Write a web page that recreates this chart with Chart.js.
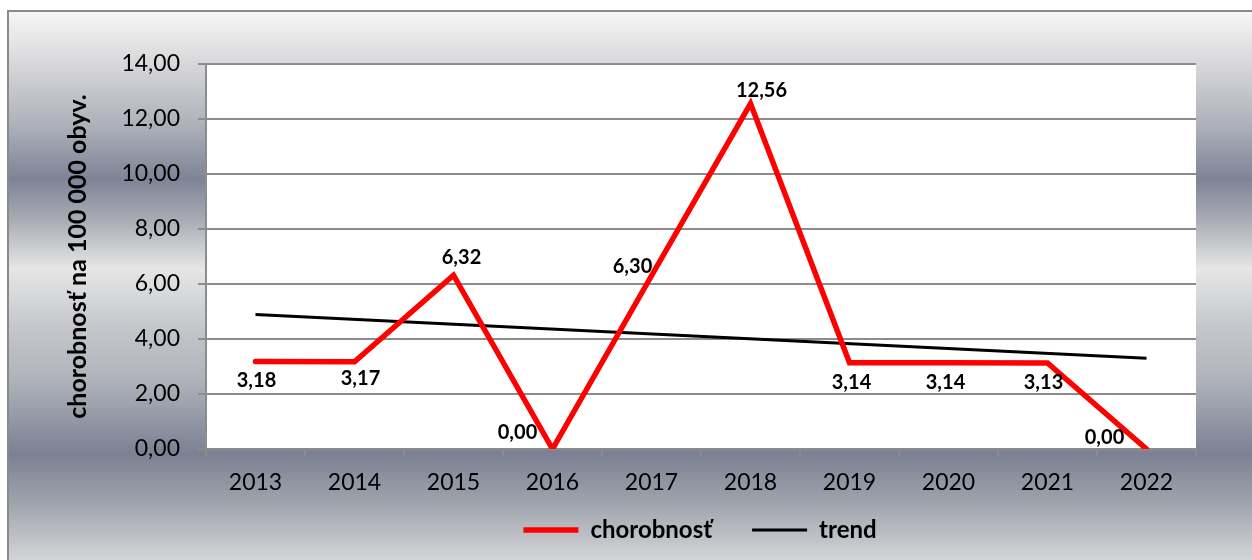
<!DOCTYPE html>
<html>
<head>
<meta charset="utf-8">
<script src="https://cdn.jsdelivr.net/npm/chart.js@4"></script>
<style>
html,body{margin:0;padding:0;background:#ffffff;}
#c{display:block;}
</style>
</head>
<body>
<canvas id="c" width="1252" height="560"></canvas>
<script>
// ---- data ----
const years = ['2013','2014','2015','2016','2017','2018','2019','2020','2021','2022'];
const chorobnost = [3.18, 3.17, 6.32, 0.00, 6.30, 12.56, 3.14, 3.14, 3.13, 0.00];
const trend = [4.89, null, null, null, null, null, null, null, null, 3.30];
const seriesNames = ['chorobnosť', 'trend'];
const axisTitle = 'chorobnosť na 100 000 obyv.';

// ---- label placement (style only) ----
const labelOffsets = [[1,19],[6,17],[8,-18],[-35,-16],[-19,-9],[11,-13],[2,20],[-3,20],[-4,20],[-42,-11]];

const FONT = 'Lato';
const fmt = v => v.toFixed(2).replace('.', ',');

const bgPlugin = {
  id: 'bg',
  beforeDraw(chart) {
    const ctx = chart.ctx, W = chart.width, H = chart.height;
    ctx.save();
    ctx.fillStyle = '#ffffff';
    ctx.fillRect(0, 0, W, H);
    const g = ctx.createLinearGradient(0, 0, 0, H);
    const stops = [[0.02,'#f7f7f7'],[0.11,'#d9d9db'],[0.22,'#afb2ba'],[0.32,'#7e8496'],[0.39,'#a7aab3'],[0.48,'#e6e6e6'],[0.59,'#c3c5ca'],[0.68,'#afb2ba'],[0.81,'#7b8193'],[0.90,'#a0a4ad'],[1.0,'#d4d5d8']];
    stops.forEach(s => g.addColorStop(s[0], s[1]));
    ctx.fillStyle = g;
    ctx.fillRect(8, 11, W - 8, H - 11);
    ctx.strokeStyle = '#8a8a8a';
    ctx.lineWidth = 2;
    ctx.strokeRect(8, 11, W + 10, H + 10);
    const a = chart.chartArea;
    ctx.fillStyle = '#ffffff';
    ctx.fillRect(a.left, a.top, a.right - a.left, a.bottom - a.top);
    ctx.restore();
  }
};

const legendPos = {
  id: 'legendPos',
  afterLayout(chart) {
    const lg = chart.legend;
    if (!lg) return;
    const dx = 700 - (lg.left + lg.right) / 2;
    lg.left += dx; lg.right += dx;
    const pad = lg.options.labels.padding;
    const dy = 530 - (lg.top + pad + 12);
    lg.top += dy;
    lg.bottom = chart.height;
    lg.height = lg.bottom - lg.top;
  }
};

const labelPlugin = {
  id: 'dataLabels',
  afterDatasetsDraw(chart) {
    const ctx = chart.ctx;
    const meta = chart.getDatasetMeta(0);
    ctx.save();
    ctx.font = 'bold 20px ' + FONT;
    ctx.fillStyle = '#000000';
    ctx.textAlign = 'center';
    ctx.textBaseline = 'middle';
    meta.data.forEach((pt, i) => {
      const o = labelOffsets[i];
      ctx.fillText(fmt(chorobnost[i]), pt.x + o[0], pt.y + o[1]);
    });
    ctx.restore();
  }
};

new Chart(document.getElementById('c'), {
  type: 'line',
  data: {
    labels: years,
    datasets: [
      {
        label: seriesNames[0],
        data: chorobnost,
        borderColor: '#ff0000',
        backgroundColor: '#ff0000',
        borderWidth: 5.5,
        borderCapStyle: 'round',
        borderJoinStyle: 'miter',
        pointRadius: 0,
        tension: 0,
        fill: false
      },
      {
        label: seriesNames[1],
        data: trend,
        borderColor: '#000000',
        backgroundColor: '#000000',
        borderWidth: 3,
        pointRadius: 0,
        spanGaps: true,
        tension: 0,
        fill: false
      }
    ]
  },
  options: {
    responsive: false,
    animation: false,
    devicePixelRatio: 1,
    layout: { padding: { left: 0, right: 56, top: 64, bottom: 6 } },
    plugins: {
      legend: {
        position: 'bottom',
        maxHeight: 50,
        labels: {
          usePointStyle: true,
          pointStyle: 'line',
          pointStyleWidth: 55,
          boxHeight: 6,
          padding: 40,
          color: '#000000',
          font: { family: FONT, size: 24, weight: 'bold' }
        }
      },
      tooltip: { enabled: false }
    },
    scales: {
      x: {
        offset: true,
        afterFit(s) { s.height = 55; },
        grid: { offset: true, drawOnChartArea: false, drawTicks: true, tickLength: 7, color: '#8c8c8c', lineWidth: 2 },
        border: { display: true, color: '#8c8c8c', width: 2 },
        ticks: { color: '#000000', padding: 13, font: { family: FONT, size: 23 }, maxRotation: 0 }
      },
      y: {
        min: 0,
        max: 14,
        afterFit(s) { s.width = 206; },
        grid: { color: '#8c8c8c', lineWidth: 2, drawTicks: true, tickLength: 8 },
        border: { display: true, color: '#8c8c8c', width: 2 },
        ticks: { stepSize: 2, color: '#000000', padding: 18, font: { family: FONT, size: 23 }, callback: v => fmt(v) },
        title: { display: true, text: axisTitle, color: '#000000', padding: { top: 63, bottom: 0 }, font: { family: FONT, size: 25, weight: 'bold' } }
      }
    }
  },
  plugins: [bgPlugin, legendPos, labelPlugin]
});
</script>
</body>
</html>
